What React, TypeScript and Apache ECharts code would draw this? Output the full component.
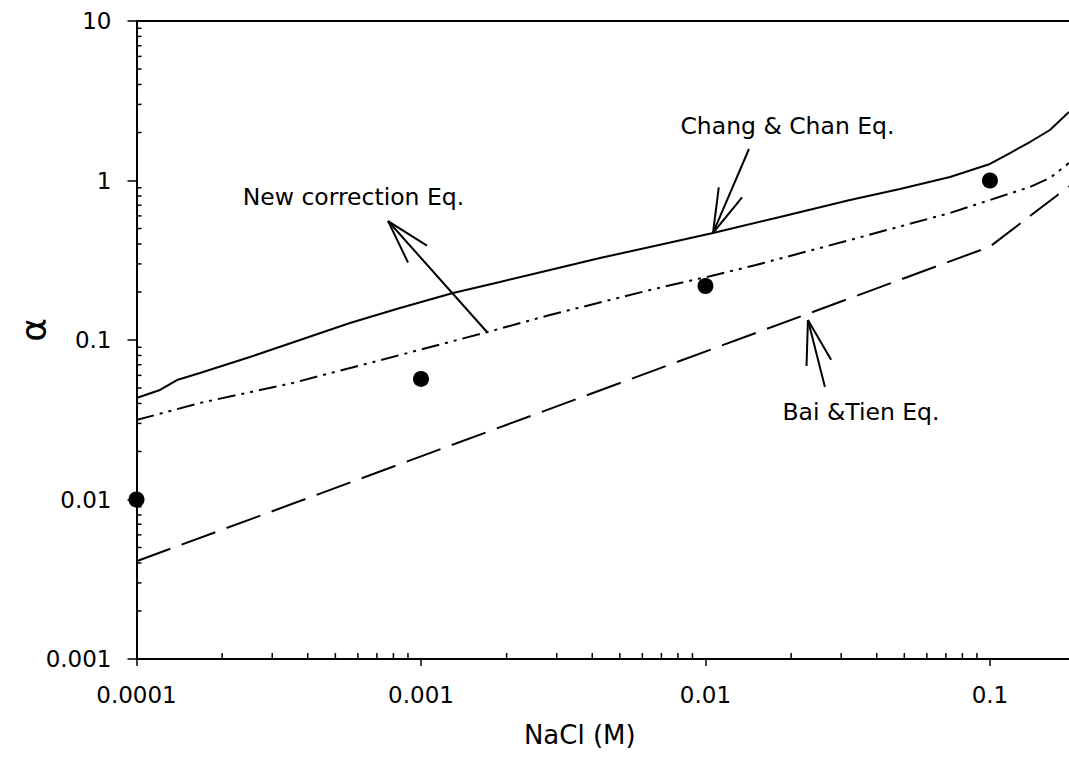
import React, { useEffect, useRef } from "react";
import * as echarts from "echarts";

// ---- axis settings / tick labels ----
const xMin = 0.0001;
const xMax = 0.1896;
const yMin = 0.001;
const yMax = 10;
const xTickValues = [0.0001, 0.001, 0.01, 0.1];
const xTickLabels = ["0.0001", "0.001", "0.01", "0.1"];
const yTickValues = [0.001, 0.01, 0.1, 1, 10];
const yTickLabels = ["0.001", "0.01", "0.1", "1", "10"];
const xAxisTitle = "NaCl (M)";
const yAxisTitle = "α";
const xMinorTicks = [
  0.0002, 0.0003, 0.0004, 0.0005, 0.0006, 0.0007, 0.0008, 0.0009,
  0.002, 0.003, 0.004, 0.005, 0.006, 0.007, 0.008, 0.009,
  0.02, 0.03, 0.04, 0.05, 0.06, 0.07, 0.08, 0.09,
];
const yMinorTicks = [
  0.002, 0.003, 0.004, 0.005, 0.006, 0.007, 0.008, 0.009,
  0.02, 0.03, 0.04, 0.05, 0.06, 0.07, 0.08, 0.09,
  0.2, 0.3, 0.4, 0.5, 0.6, 0.7, 0.8, 0.9,
  2, 3, 4, 5, 6, 7, 8, 9,
];

// ---- series ----
const changChanX = [0.0001, 0.0001209, 0.0001388, 0.0001671, 0.0002505, 0.0003755, 0.0005628, 0.0008437, 0.001296, 0.001895, 0.00284, 0.004257, 0.00638, 0.01063, 0.01827, 0.03221, 0.04828, 0.07236, 0.1, 0.1176, 0.1382, 0.1625, 0.1896];
const changChanY = [0.0433, 0.0486, 0.0561, 0.0621, 0.0782, 0.1, 0.1278, 0.1587, 0.1971, 0.231, 0.2747, 0.3266, 0.3829, 0.4688, 0.5903, 0.7547, 0.8845, 1.052, 1.269, 1.487, 1.743, 2.073, 2.689];

const newCorrX = [0.0001, 0.0001671, 0.0003548, 0.0008437, 0.001713, 0.00284, 0.00638, 0.01045, 0.01505, 0.03221, 0.07236, 0.1, 0.1382, 0.1625, 0.1896];
const newCorrY = [0.0315, 0.0403, 0.0538, 0.0805, 0.1122, 0.1435, 0.2059, 0.2519, 0.2953, 0.4236, 0.6255, 0.7547, 0.9104, 1.037, 1.287];

const baiTienX = [0.0001, 0.1, 0.1896];
const baiTienY = [0.0041, 0.385, 0.92];

const measuredX = [0.0001, 0.001, 0.01, 0.1];
const measuredY = [0.01, 0.057, 0.218, 1.0];

// ---- annotations (data coordinates) ----
const annotationTexts = ["Chang & Chan Eq.", "New correction Eq.", "Bai &Tien Eq."];
const annotationTextX = [0.01942, 0.000579, 0.0352];
const annotationTextY = [2.196, 0.788, 0.03537];
const arrowTipX = [0.01063, 0.000766, 0.02292];
const arrowTipY = [0.469, 0.557, 0.1335];
const arrowTailX = [0.01422, 0.001706, 0.0263];
const arrowTailY = [1.576, 0.1122, 0.0507];

const FONT = "DejaVu Sans";

function fmt(v: number, vals: number[], labels: string[]) {
  const lv = Math.round(Math.log10(v) * 1000) / 1000;
  for (let i = 0; i < vals.length; i++) {
    if (Math.abs(Math.log10(vals[i]) - lv) < 1e-3) return labels[i];
  }
  return "";
}

export default function App() {
  const ref = useRef<HTMLDivElement>(null);
  useEffect(() => {
    if (!ref.current) return;
    const chart = echarts.init(ref.current, undefined, { renderer: "svg" });
    const black = "#000";
    const option: any = {
      animation: false,
      backgroundColor: "#fff",
      grid: {
        left: 136.5,
        right: 0,
        top: 21,
        bottom: 100,
        containLabel: false,
        outerBoundsMode: "none",
      },
      xAxis: [
        {
          type: "log",
          logBase: 10,
          min: xMin,
          max: xMax,
          position: "bottom",
          name: xAxisTitle,
          nameLocation: "middle",
          nameGap: 63,
          nameMoveOverlap: false,
          nameTextStyle: { fontSize: 26, fontFamily: FONT, color: black, padding: [0, 46, 0, 0] },
          axisLine: { show: true, onZero: false, lineStyle: { color: black, width: 2 } },
          axisTick: { show: true, inside: false, length: 7, lineStyle: { color: black, width: 1.5 } },
          axisLabel: {
            show: true,
            margin: 24,
            fontSize: 23,
            fontFamily: FONT,
            color: black,
            showMaxLabel: false,
            formatter: (v: number) => fmt(v, xTickValues, xTickLabels),
          },
          splitLine: { show: false },
        },
        {
          type: "log",
          logBase: 10,
          min: xMin,
          max: xMax,
          position: "top",
          axisLine: { show: true, onZero: false, lineStyle: { color: black, width: 2 } },
          axisTick: { show: false },
          axisLabel: { show: false },
          splitLine: { show: false },
        },
      ],
      yAxis: {
        type: "log",
        logBase: 10,
        min: yMin,
        max: yMax,
        axisLine: { show: true, onZero: false, lineStyle: { color: black, width: 2 } },
        axisTick: { show: true, inside: false, length: 9, lineStyle: { color: black, width: 1.5 } },
        axisLabel: {
          show: true,
          margin: 25,
          fontSize: 23,
          fontFamily: FONT,
          color: black,
          formatter: (v: number) => fmt(v, yTickValues, yTickLabels),
        },
        splitLine: { show: false },
      },
      series: [
        {
          name: "Chang & Chan Eq.",
          type: "line",
          data: changChanX.map((x, i) => [x, changChanY[i]]),
          showSymbol: false,
          symbol: "none",
          lineStyle: { color: black, width: 2 },
          z: 3,
        },
        {
          name: "New correction Eq.",
          type: "line",
          data: newCorrX.map((x, i) => [x, newCorrY[i]]),
          showSymbol: false,
          symbol: "none",
          lineStyle: { color: black, width: 2, type: [18, 6, 3, 6, 3, 6] },
          z: 3,
        },
        {
          name: "Bai & Tien Eq.",
          type: "line",
          data: baiTienX.map((x, i) => [x, baiTienY[i]]),
          showSymbol: false,
          symbol: "none",
          lineStyle: { color: black, width: 2, type: [36, 12] },
          z: 3,
        },
        {
          name: "Measured",
          type: "scatter",
          data: measuredX.map((x, i) => [x, measuredY[i]]),
          symbol: "circle",
          symbolSize: 16,
          itemStyle: { color: black, opacity: 1 },
          clip: false,
          z: 5,
        },
        {
          name: "xMinor",
          type: "custom",
          coordinateSystem: "cartesian2d",
          clip: false,
          silent: true,
          data: xMinorTicks.map((v) => [v, yMin]),
          renderItem: (_p: any, api: any) => {
            const pt = api.coord([api.value(0), api.value(1)]);
            return {
              type: "line",
              shape: { x1: pt[0], y1: pt[1], x2: pt[0], y2: pt[1] - 6 },
              style: { stroke: black, lineWidth: 1.5 },
            };
          },
          z: 4,
        },
        {
          name: "yMinor",
          type: "custom",
          coordinateSystem: "cartesian2d",
          clip: false,
          silent: true,
          data: yMinorTicks.map((v) => [xMin, v]),
          renderItem: (_p: any, api: any) => {
            const pt = api.coord([api.value(0), api.value(1)]);
            return {
              type: "line",
              shape: { x1: pt[0], y1: pt[1], x2: pt[0] + 5, y2: pt[1] },
              style: { stroke: black, lineWidth: 1.5 },
            };
          },
          z: 4,
        },
      ],
    };
    chart.setOption(option);

    // annotations, positioned through the chart's own scales
    const graphics: any[] = [
      {
        type: "text",
        x: 33,
        y: 330,
        rotation: Math.PI / 2,
        style: {
          text: yAxisTitle,
          fontSize: 36,
          fontFamily: FONT,
          fill: black,
          align: "center",
          verticalAlign: "middle",
        },
        z: 10,
      },
    ];
    for (let i = 0; i < annotationTexts.length; i++) {
      const t = chart.convertToPixel({ gridIndex: 0 }, [annotationTextX[i], annotationTextY[i]]) as number[];
      const tip = chart.convertToPixel({ gridIndex: 0 }, [arrowTipX[i], arrowTipY[i]]) as number[];
      const tail = chart.convertToPixel({ gridIndex: 0 }, [arrowTailX[i], arrowTailY[i]]) as number[];
      graphics.push({
        type: "text",
        x: t[0],
        y: t[1],
        style: {
          text: annotationTexts[i],
          fontSize: 23.5,
          fontFamily: FONT,
          fill: black,
          align: "center",
          verticalAlign: "middle",
        },
        z: 10,
      });
      graphics.push({
        type: "line",
        shape: { x1: tail[0], y1: tail[1], x2: tip[0], y2: tip[1] },
        style: { stroke: black, lineWidth: 2 },
        z: 10,
      });
      const dx = tail[0] - tip[0];
      const dy = tail[1] - tip[1];
      const len = Math.sqrt(dx * dx + dy * dy);
      const ux = dx / len;
      const uy = dy / len;
      const ang = (16 * Math.PI) / 180;
      const bl = 46;
      for (const s of [1, -1]) {
        const c = Math.cos(s * ang);
        const sn = Math.sin(s * ang);
        const bx = ux * c - uy * sn;
        const by = ux * sn + uy * c;
        graphics.push({
          type: "line",
          shape: { x1: tip[0], y1: tip[1], x2: tip[0] + bx * bl, y2: tip[1] + by * bl },
          style: { stroke: black, lineWidth: 2 },
          z: 10,
        });
      }
    }
    chart.setOption({ graphic: graphics });

    return () => chart.dispose();
  }, []);
  return (
    <div
      ref={ref}
      style={{ position: "fixed", left: 0, top: 0, width: 1069, height: 759, background: "#fff" }}
    />
  );
}
